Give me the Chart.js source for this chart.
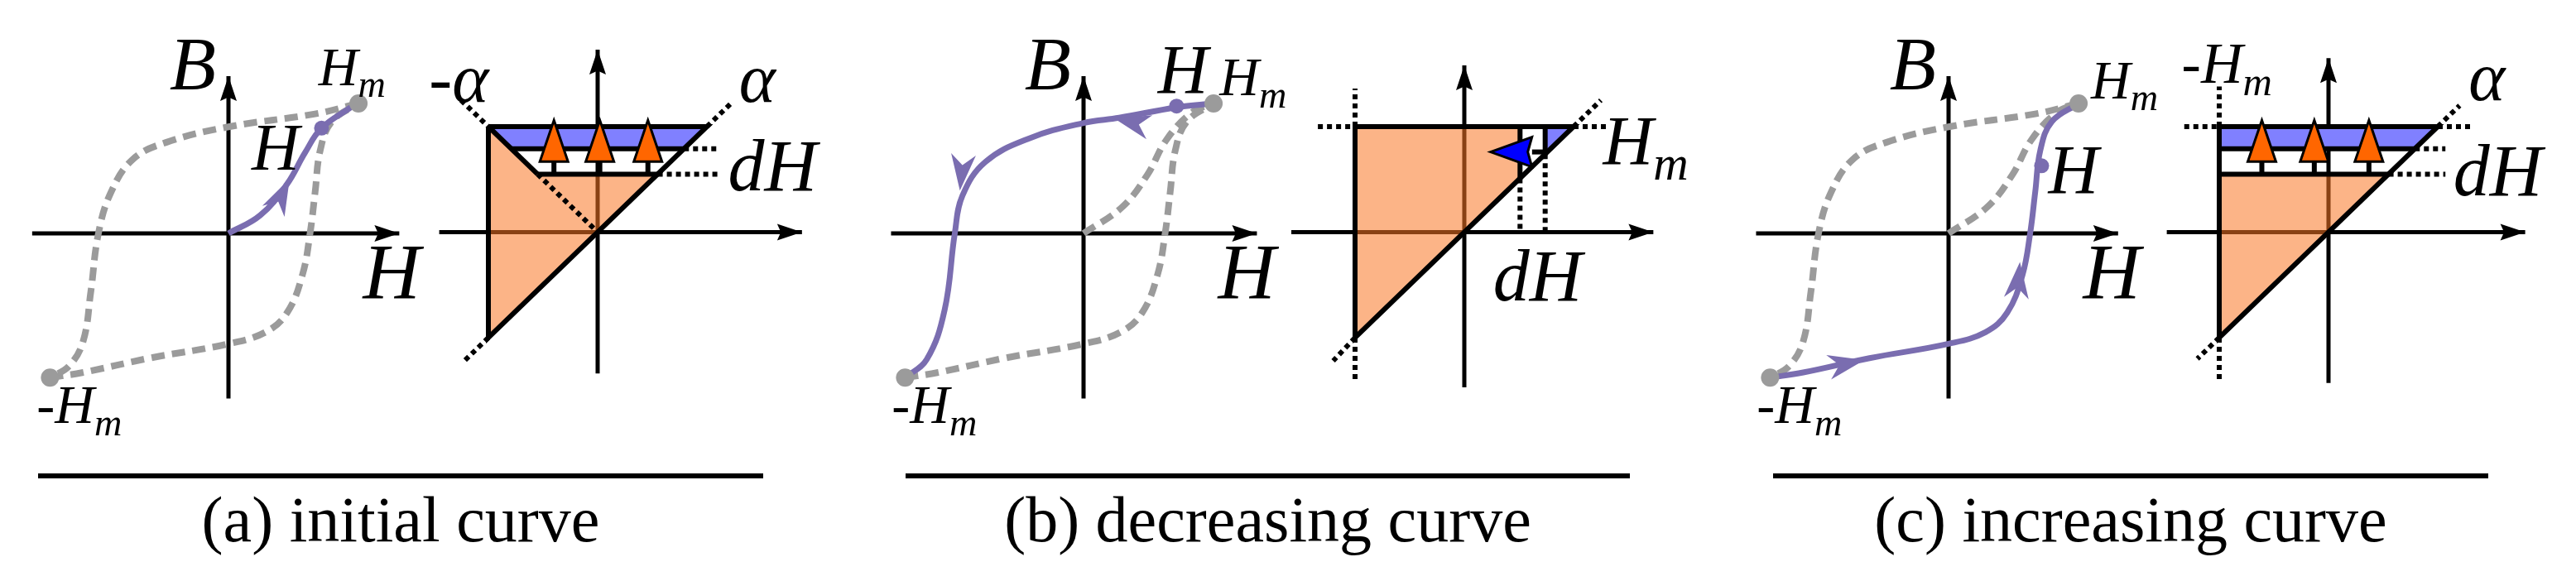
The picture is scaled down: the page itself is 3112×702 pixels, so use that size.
<!DOCTYPE html>
<html>
<head>
<meta charset="utf-8">
<script src="https://cdn.jsdelivr.net/npm/chart.js@4/dist/chart.umd.min.js"></script>
<style>
  body { margin: 0; background: #fff; width: 3112px; height: 702px; position: relative; overflow: hidden; }
  canvas { position: absolute; top: 0; }
  .cap { position: absolute; top: 572px; border-top: 6px solid #000; text-align: center;
         font-family: "Liberation Serif", serif; font-size: 78px; line-height: 100px; }
</style>
</head>
<body>
<canvas id="hA" width="520" height="540" style="left:0px"></canvas>
<canvas id="tA" width="500" height="540" style="left:520px"></canvas>
<canvas id="hB" width="520" height="540" style="left:1050px"></canvas>
<canvas id="tB" width="500" height="540" style="left:1560px"></canvas>
<canvas id="hC" width="520" height="540" style="left:2100px"></canvas>
<canvas id="tC" width="500" height="540" style="left:2600px"></canvas>
<div class="cap" style="left:46px;width:876px">(a) initial curve</div>
<div class="cap" style="left:1094px;width:875px">(b) decreasing curve</div>
<div class="cap" style="left:2142px;width:864px">(c) increasing curve</div>
<script>
// hysteresis loop (H, B), Hm = 1
const upperH = [1.02, 0.68, 0, -0.49, -0.75, -0.92, -1.02, -1.08, -1.14, -1.25, -1.40];
const upperB = [1.0, 0.92, 0.82, 0.70, 0.57, 0.32, 0, -0.45, -0.83, -1.02, -1.11];
const lowerH = [-1.40, -1.14, -0.62, 0, 0.29, 0.46, 0.58, 0.64, 0.68, 0.72, 0.81, 1.02];
const lowerB = [-1.11, -1.07, -0.96, -0.85, -0.76, -0.61, -0.32, 0, 0.32, 0.64, 0.86, 1.0];
const initH = [0, 0.25, 0.46, 0.60, 0.73, 0.96];
const initB = [0, 0.14, 0.38, 0.62, 0.81, 0.97];
const initGreyH = [0, 0.3, 0.5, 0.65, 0.85, 1.02];
const initGreyB = [0, 0.2, 0.45, 0.72, 0.93, 1.0];
const decrH = [1.02, 0.73, 0.28, 0, -0.43, -0.77, -0.95, -1.01, -1.09, -1.23, -1.40];
const decrB = [1.0, 0.97, 0.89, 0.85, 0.73, 0.55, 0.29, 0, -0.59, -0.97, -1.11];
const hPointA = [0.73, 0.81], hPointB = [0.73, 0.98], hPointC = [0.73, 0.52];
// purple arrows [H, B, dH, dB]
const arrowsA = [[0.48, 0.42, 0.5, 1]];
const arrowsB = [[0.24, 0.885, -1, 0.25], [-0.97, 0.33, -0.1, -1]];
const arrowsC = [[-0.66, -0.975, 1, 0.2], [0.56, -0.22, 0.1, 1]];
// Preisach triangle (beta, alpha)
const edgeBeta = [-1, 1, -1, -1], edgeAlpha = [1, 1, -1, 1];
const aBlueBeta = [-1, 1, 0.79, -0.79], aBlueAlpha = [1, 1, 0.79, 0.79];
const aOrgBeta = [-1, -0.55, 0.55, -1], aOrgAlpha = [1, 0.55, 0.55, -1];
const bOrgBeta = [-1, 0.51, 0.51, -1], bOrgAlpha = [1, 1, 0.51, -1];
const bBlueBeta = [0.74, 1, 0.74], bBlueAlpha = [1, 1, 0.74];
const cBlueBeta = [-1, 1, 0.79, -1], cBlueAlpha = [1, 1, 0.79, 0.79];
const cOrgBeta = [-1, 0.55, -1], cOrgAlpha = [0.55, 0.55, -1];
const upArrowsA = [-0.40, 0.02, 0.46];
const upArrowsC = [-0.61, -0.13, 0.37];

const GREY = "#9b9b9b", PURPLE = "#7a6db0", ORANGE = "rgba(250,118,36,0.55)", BLUE = "#8080ff";
const pts = (xs, ys) => xs.map((x, i) => ({ x: x, y: ys[i] }));
function line(xs, ys, o) {
  o = o || {};
  return { data: pts(xs, ys), showLine: true, pointRadius: 0, borderColor: o.color || "#000",
    borderWidth: o.w || 6, borderDash: o.dash || [], tension: o.tension || 0, fill: false,
    borderCapStyle: "butt", order: o.order || 2, arrowEnd: o.arrow, cubicInterpolationMode: o.mono ? "monotone" : "default" };
}
const dotted = (xs, ys) => line(xs, ys, { dash: [6, 5], w: 6 });
function poly(xs, ys, color) {
  return { data: pts(xs.concat([xs[0]]), ys.concat([ys[0]])), showLine: true, pointRadius: 0,
    borderWidth: 0, borderColor: "transparent", backgroundColor: color, fill: "shape", order: 5 };
}
function dots(p, color, r) {
  return { data: [{ x: p[0], y: p[1] }], showLine: false, pointRadius: r, backgroundColor: color,
    borderWidth: 0, order: 0 };
}

function head(ctx, x, y, dx, dy, len, hw, fill, stroke, notch) {
  const n = Math.hypot(dx, dy); dx /= n; dy /= n;
  const bx = x - dx * len, by = y - dy * len;
  ctx.beginPath();
  ctx.moveTo(x, y);
  ctx.lineTo(bx - dy * hw, by + dx * hw);
  ctx.lineTo(x - dx * len * (1 - notch), y - dy * len * (1 - notch));
  ctx.lineTo(bx + dy * hw, by - dx * hw);
  ctx.closePath();
  ctx.fillStyle = fill; ctx.fill();
  if (stroke) { ctx.lineWidth = 3; ctx.strokeStyle = stroke; ctx.stroke(); }
}

const drawPlugin = {
  id: "extras",
  afterDatasetsDraw(chart) {
    const ctx = chart.ctx, sx = chart.scales.x, sy = chart.scales.y;
    const o = chart.options.plugins.extras;
    chart.data.datasets.forEach((ds, i) => {
      if (!ds.arrowEnd) return;
      const d = ds.data, a = d[d.length - 2], b = d[d.length - 1];
      const x1 = sx.getPixelForValue(b.x), y1 = sy.getPixelForValue(b.y);
      head(ctx, x1, y1, x1 - sx.getPixelForValue(a.x), y1 - sy.getPixelForValue(a.y), 30, 10, "#000", null, 0.15);
    });
    (o.arrows || []).forEach(a => {
      head(ctx, sx.getPixelForValue(a[0]), sy.getPixelForValue(a[1]), a[2], -a[3],
        a[4] || 44, a[5] || 15, a[6] || PURPLE, a[7], a[8] === undefined ? 0.3 : a[8]);
    });
    (o.labels || []).forEach(l => {
      const x = sx.getPixelForValue(l.x), y = sy.getPixelForValue(l.y);
      ctx.fillStyle = "#000"; ctx.textBaseline = "alphabetic";
      ctx.font = "italic " + l.s + "px 'Liberation Serif', serif";
      const w = ctx.measureText(l.t).width;
      let sw = 0;
      if (l.sub) { ctx.font = "italic " + (l.s * 0.7) + "px 'Liberation Serif', serif"; sw = ctx.measureText(l.sub).width; }
      const x0 = x - (w + sw) / 2;
      ctx.font = "italic " + l.s + "px 'Liberation Serif', serif";
      ctx.textAlign = "left";
      ctx.fillText(l.t, x0, y + l.s * 0.33);
      if (l.sub) {
        ctx.font = "italic " + (l.s * 0.7) + "px 'Liberation Serif', serif";
        ctx.fillText(l.sub, x0 + w, y + l.s * 0.55);
      }
    });
  }
};

function make(id, left, width, ox, oy, ux, uy, datasets, extras) {
  const H = 540;
  new Chart(document.getElementById(id), {
    type: "scatter",
    data: { datasets: datasets },
    options: {
      responsive: false, animation: false, devicePixelRatio: 1,
      layout: { padding: 0, autoPadding: false },
      scales: {
        x: { type: "linear", display: false, min: -(ox - left) / ux, max: (left + width - ox) / ux },
        y: { type: "linear", display: false, min: -(H - oy) / uy, max: oy / uy }
      },
      plugins: { legend: { display: false }, tooltip: { enabled: false }, extras: extras }
    },
    plugins: [drawPlugin]
  });
}

function hystAxes(x0, x1) {
  return [line([x0, x1], [0, 0], { w: 5, arrow: true, order: 9 }), line([0, 0], [-1.27, 1.21], { w: 5, arrow: true, order: 9 })];
}
function triAxes(x0, x1, y0, y1) {
  return [line([x0, x1], [0, 0], { w: 5, arrow: true, order: 9 }), line([0, 0], [y0, y1], { w: 5, arrow: true, order: 9 })];
}
const greyLine = (xs, ys) => line(xs, ys, { color: GREY, w: 8, dash: [16, 9], tension: 0.4 });
const purpleLine = (xs, ys) => line(xs, ys, { color: PURPLE, w: 7, tension: 0.4, order: 1 });
const hm = [1.02, 1.0], mhm = [-1.40, -1.11];
function hmLabels(extra) {
  return [{ t: "B", x: -0.28, y: 1.30, s: 92 }, { t: "H", x: 1.28, y: -0.30, s: 96 },
    { t: "-H", sub: "m", x: -1.17, y: -1.32, s: 66 }].concat(extra);
}
function upArrows(betas) {
  return betas.map(b => [b, 1.06, 0, 1, 50, 17, "#ff6600", "#000", 0]);
}
function stems(betas) {
  return betas.map(b => line([b, b], [0.55, 0.7], { w: 6, order: 1 }));
}

// (a)
make("hA", 0, 520, 276, 282, 154, 157,
  hystAxes(-1.54, 1.34).concat([greyLine(upperH, upperB), greyLine(lowerH, lowerB),
    purpleLine(initH, initB), dots(hm, GREY, 11), dots(mhm, GREY, 11), dots(hPointA, PURPLE, 9)]),
  { arrows: arrowsA, labels: hmLabels([{ t: "H", sub: "m", x: 0.97, y: 1.28, s: 66 }, { t: "H", x: 0.37, y: 0.66, s: 80 }]) });

make("tA", 520, 500, 722, 280.5, 132, 127.5,
  triAxes(-1.45, 1.87, -1.34, 1.73).concat([
    poly(aBlueBeta, aBlueAlpha, BLUE), poly(aOrgBeta, aOrgAlpha, ORANGE),
    line(edgeBeta, edgeAlpha), line([-0.79, 0.79], [0.79, 0.79]), line([-0.55, 0.55], [0.55, 0.55]),
    line([-1, -0.55], [1, 0.55]),
    dotted([-0.55, 0], [0.55, 0]), dotted([-1.25, -1], [1.25, 1]), dotted([1, 1.22], [1, 1.22]),
    dotted([-1, -1.22], [-1, -1.22]), dotted([0.79, 1.12], [0.79, 0.79]), dotted([0.55, 1.12], [0.55, 0.55])
  ]).concat(stems(upArrowsA)),
  { arrows: upArrows(upArrowsA), labels: [{ t: "-α", x: -1.27, y: 1.45, s: 84 }, { t: "α", x: 1.46, y: 1.45, s: 84 },
    { t: "dH", x: 1.6, y: 0.62, s: 88 }] });

// (b)
make("hB", 1050, 520, 1309, 282, 154, 157,
  hystAxes(-1.51, 1.36).concat([greyLine(lowerH, lowerB), greyLine(initGreyH, initGreyB),
    purpleLine(decrH, decrB), dots(hm, GREY, 11), dots(mhm, GREY, 11), dots(hPointB, PURPLE, 9)]),
  { arrows: arrowsB, labels: hmLabels([{ t: "H", x: 0.78, y: 1.25, s: 84 }, { t: "H", sub: "m", x: 1.33, y: 1.2, s: 66 }]) });

make("tB", 1560, 500, 1769, 280.5, 132, 127.5,
  triAxes(-1.61, 1.73, -1.47, 1.58).concat([
    poly(bOrgBeta, bOrgAlpha, ORANGE), poly(bBlueBeta, bBlueAlpha, BLUE),
    line(edgeBeta, edgeAlpha), line([0.51, 0.51], [1, 0.51]), line([0.74, 0.74], [1, 0.74]),
    line([0.62, 0.74], [0.76, 0.76], { order: 1 }),
    dotted([0.51, 0.51], [0.51, 0]), dotted([0.74, 0.74], [0.74, 0]),
    dotted([-1.34, -1], [1, 1]), dotted([1, 1.33], [1, 1]), dotted([-1, -1], [1, 1.36]), dotted([-1, -1], [-1, -1.42]),
    dotted([1, 1.25], [1, 1.25]), dotted([-1, -1.2], [-1, -1.22])
  ]),
  { arrows: [[0.24, 0.76, -1, 0, 50, 18, "#0000ff", "#000", 0.1]],
    labels: [{ t: "H", sub: "m", x: 1.66, y: 0.86, s: 84 }, { t: "dH", x: 0.67, y: -0.42, s: 88 }] });

// (c)
make("hC", 2100, 520, 2354, 282, 154, 157,
  hystAxes(-1.51, 1.33).concat([greyLine(upperH, upperB), greyLine(initGreyH, initGreyB),
    purpleLine(lowerH, lowerB), dots(hm, GREY, 11), dots(mhm, GREY, 11), dots(hPointC, PURPLE, 9)]),
  { arrows: arrowsC, labels: hmLabels([{ t: "H", sub: "m", x: 1.38, y: 1.18, s: 66 }, { t: "H", x: 0.98, y: 0.48, s: 84 }]) });

make("tC", 2600, 500, 2813, 280.5, 132, 127.5,
  triAxes(-1.48, 1.80, -1.43, 1.65).concat([
    poly(cBlueBeta, cBlueAlpha, BLUE), poly(cOrgBeta, cOrgAlpha, ORANGE),
    line(edgeBeta, edgeAlpha), line([-1, 0.79], [0.79, 0.79]), line([-1, 0.55], [0.55, 0.55]),
    dotted([-1.32, -1], [1, 1]), dotted([1, 1.33], [1, 1]), dotted([0.79, 1.07], [0.79, 0.79]),
    dotted([0.55, 1.07], [0.55, 0.55]), dotted([-1, -1], [1, 1.38]), dotted([-1, -1], [-1, -1.42]),
    dotted([1, 1.2], [1, 1.2]), dotted([-1, -1.2], [-1, -1.2])
  ]).concat(stems(upArrowsC)),
  { arrows: upArrows(upArrowsC),
    labels: [{ t: "-H", sub: "m", x: -0.93, y: 1.6, s: 70 }, { t: "α", x: 1.45, y: 1.47, s: 84 },
      { t: "dH", x: 1.55, y: 0.58, s: 88 }] });
</script>
</body>
</html>
